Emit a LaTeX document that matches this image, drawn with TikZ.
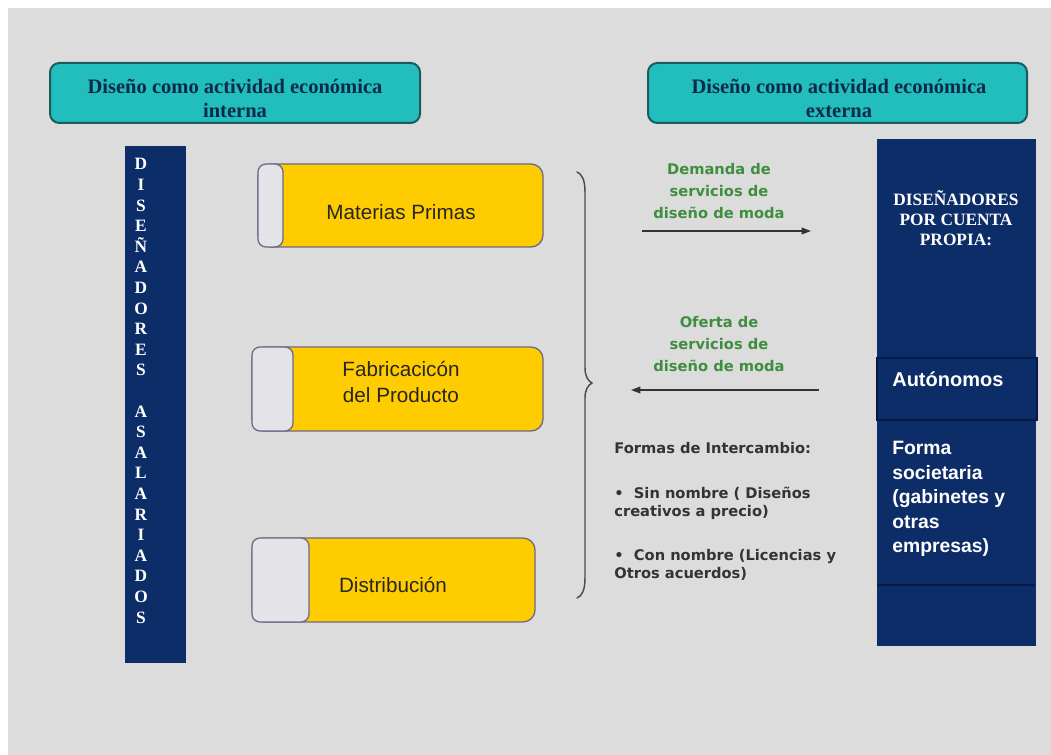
\documentclass[tikz,border=0pt]{standalone}
\usepackage{fontspec}
\setmainfont{Liberation Sans}
\newfontfamily\serifbf{Liberation Serif}
\newfontfamily\roundsans{DejaVu Sans}
\usetikzlibrary{arrows.meta}

\definecolor{bggray}{HTML}{DCDCDC}
\definecolor{tealfill}{HTML}{22BDBD}
\definecolor{tealline}{HTML}{1C5A5C}
\definecolor{headtext}{HTML}{0B2A48}
\definecolor{navy}{HTML}{0D2D68}
\definecolor{navyline}{HTML}{071A44}
\definecolor{gold}{HTML}{FFCC00}
\definecolor{tabfill}{HTML}{E4E4E8}
\definecolor{tabline}{HTML}{6E6888}
\definecolor{flowgreen}{HTML}{3E8E3E}
\definecolor{notegray}{HTML}{333333}

\tikzset{every picture/.style={line width=0.5pt}}
\tikzset{
  header/.style={draw=tealline, fill=tealfill, line width=1.5pt, rounded corners=7},
  headtxt/.style={inner sep=0.75pt, align=center, text=headtext, font=\serifbf\bfseries\fontsize{15.4}{18}\selectfont},
  stage/.style={draw=tabline, fill=gold, line width=1pt, rounded corners=9},
  stagetab/.style={draw=tabline, fill=tabfill, line width=1pt, rounded corners=6},
  stagetxt/.style={inner sep=0.75pt, align=center, text=black!85, font=\fontsize{15.5}{19.5}\selectfont},
  flowtxt/.style={inner sep=0.75pt, align=center, text=flowgreen, font=\roundsans\bfseries\fontsize{11}{16.5}\selectfont},
  flow/.style={line width=1.1pt, draw=black!80, -{Triangle[length=7pt,width=5pt]}},
  bartxt/.style={inner sep=0.75pt, align=center, text=white, font=\serifbf\bfseries\fontsize{13}{15.45}\selectfont},
  celltxt/.style={inner sep=0.75pt, align=left, text=white, font=\bfseries\fontsize{14.5}{18.4}\selectfont}
}

\begin{document}
\begin{tikzpicture}[x=0.75pt,y=0.75pt,yscale=-1,xscale=1]
\useasboundingbox (0,0) rectangle (1051,755);
%Shape: Background
\fill [white] (0,0) rectangle (1051,755);
\fill [bggray] (8,8) rectangle (1051,755);

%Shape: Rounded Rect (headers)
\draw [header] (50,63) rectangle (420,123);
\draw [header] (648,63) rectangle (1027,123);
% Text Node
\draw (235,98) node (hdrint) [headtxt] {Diseño como actividad económica\\interna};
% Text Node
\draw (839,98) node (hdrext) [headtxt] {Diseño como actividad económica\\externa};

%Shape: Rectangle (left bar)
\draw [draw=navy, fill=navy] (125,146) rectangle (185,662);
% Text Node
\draw (141,391) node (asalariados) [bartxt] {D\\I\\S\\E\\Ñ\\A\\D\\O\\R\\E\\S\\[15.45pt]A\\S\\A\\L\\A\\R\\I\\A\\D\\O\\S};

%Shape: Rounded Rect (stages)
\draw [stage] (258,164) rectangle (543,247);
\draw [stagetab] (258,164) rectangle (283,247);
\draw [stage] (252,347) rectangle (543,431);
\draw [stagetab] (252,347) rectangle (293,431);
\draw [stage] (252,538) rectangle (535,622);
\draw [stagetab] (252,538) rectangle (309,622);
% Text Node
\draw (401,212) node (materias) [stagetxt] {Materias Primas};
% Text Node
\draw (401,382) node (fabricacion) [stagetxt] {Fabricacicón\\del Producto};
% Text Node
\draw (393,585) node (distribucion) [stagetxt] {Distribución};

%Shape: Brace
\draw [color=black!70, line width=1.1pt, line cap=round] (577,172) .. controls (582,174) and (585,180) .. (585,192) -- (585,368) .. controls (585,376) and (588,381) .. (592,383) .. controls (588,385) and (585,390) .. (585,398) -- (585,578) .. controls (585,590) and (582,596) .. (577,598) ;

% Text Node
\draw (719,191) node (demanda) [flowtxt] {Demanda de\\servicios de\\diseño de moda};
% Text Node
\draw (719,344) node (oferta) [flowtxt] {Oferta de\\servicios de\\diseño de moda};
%Straight Lines
\coordinate (dem1) at (642,231);
\coordinate (dem2) at (811,231);
\draw [flow] (dem1) -- (dem2) ;
%Straight Lines
\coordinate (ofe1) at (819,390);
\coordinate (ofe2) at (631,390);
\draw [flow] (ofe1) -- (ofe2) ;

% Text Node
\draw (613,441) node (formas) [anchor=north west, inner sep=0.75pt, align=left, text=notegray, font=\roundsans\bfseries\fontsize{11}{13.5}\selectfont] {Formas de Intercambio:\\[20pt]•\ \ Sin nombre ( Diseños\\creativos a precio)\\[20pt]•\ \ Con nombre (Licencias y\\Otros acuerdos)};

%Shape: Rectangle (right bar)
\draw [draw=navy, fill=navy] (877,139) rectangle (1035,645);
\draw [draw=navyline, fill=navy, line width=1pt] (877,358) rectangle (1037,420);
\draw [draw=navyline, line width=1pt] (877,585) -- (1035,585) ;
% Text Node
\draw (956,218) node (propia) [bartxt, font=\serifbf\bfseries\fontsize{13}{15}\selectfont] {DISEÑADORES\\POR CUENTA\\PROPIA:};
% Text Node
\draw (891,379) node (autonomos) [anchor=west, inner sep=0.75pt, text=white, font=\bfseries\fontsize{15}{18}\selectfont] {Autónomos};
% Text Node
\draw (891,440) node (societaria) [anchor=north west, celltxt] {Forma\\societaria\\(gabinetes y\\otras\\empresas)};

\end{tikzpicture}
\end{document}
